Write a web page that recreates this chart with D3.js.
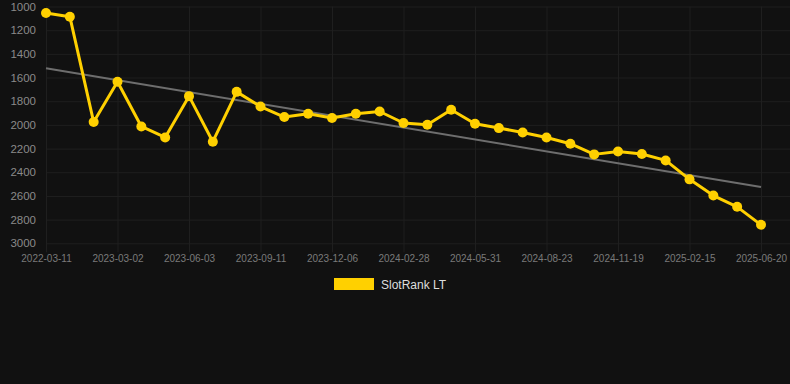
<!DOCTYPE html>
<html>
<head>
<meta charset="utf-8">
<script src="https://cdn.jsdelivr.net/npm/d3@7"></script>
<style>
  html, body { margin: 0; padding: 0; background: #111111; }
  svg { display: block; font-family: "Liberation Sans", Arial, sans-serif; }
</style>
</head>
<body>
<div id="chart"></div>
<script>
// tick labels, one every 3rd point
let tick_labels = ["2022-03-11", "2023-03-02", "2023-06-03", "2023-09-11", "2023-12-06",
    "2024-02-28", "2024-05-31", "2024-08-23", "2024-11-19", "2025-02-15", "2025-06-20"];

// SlotRank LT values (rank, lower is better)
let rank_values = [1055, 1086, 1976, 1636, 2013, 2106, 1757, 2142, 1721, 1845,
    1934, 1906, 1942, 1906, 1887, 1984, 1999, 1872, 1990, 2027,
    2064, 2106, 2159, 2249, 2224, 2246, 2300, 2460, 2597, 2692, 2844];

let y_ticks = [1000, 1200, 1400, 1600, 1800, 2000, 2200, 2400, 2600, 2800, 3000];
let series_name = "SlotRank LT";
let line_color = "#ffd000";
let grid_color = "#1f1f1f";

let width = 790, height = 384;
let plot = {left: 46, right: 790, top: 6.5, bottom: 243.3};

let svg = d3.select("#chart").append("svg")
    .attr("width", width)
    .attr("height", height);

svg.append("rect").attr("width", width).attr("height", height).attr("fill", "#111111");

let idx = d3.range(rank_values.length);

let x = d3.scalePoint()
    .domain(idx)
    .range([46, 761]);

let y = d3.scaleLinear()
    .domain([1000, 3000])
    .range([plot.top, plot.bottom]);

// horizontal grid + y labels
let y_axis = svg.append("g")
    .attr("transform", "translate(" + plot.left + ",0)")
    .call(d3.axisLeft(y).tickValues(y_ticks).tickSize(-(plot.right - plot.left)).tickPadding(10).tickFormat(d3.format("d")));
y_axis.select(".domain").remove();
y_axis.selectAll(".tick line").attr("stroke", grid_color);
y_axis.selectAll(".tick text").attr("fill", "#8a8a8a").attr("font-size", "11.5px");

// vertical grid + x labels
let tick_idx = tick_labels.map(function (d, i) { return i * 3; });
let x_axis = svg.append("g")
    .attr("transform", "translate(0," + plot.top + ")")
    .call(d3.axisBottom(x).tickValues(tick_idx).tickSize(plot.bottom - plot.top + 9).tickPadding(3)
        .tickFormat(function (d) { return tick_labels[d / 3]; }));
x_axis.select(".domain").remove();
x_axis.selectAll(".tick line").attr("stroke", grid_color);
x_axis.selectAll(".tick text").attr("fill", "#7a7a7a").attr("font-size", "10px");

// trend line (least squares over point index)
let mx = d3.mean(idx), my = d3.mean(rank_values);
let slope = d3.sum(idx, function (i) { return (i - mx) * (rank_values[i] - my); }) /
    d3.sum(idx, function (i) { return (i - mx) * (i - mx); });
let icpt = my - slope * mx;
let n = idx.length - 1;
svg.append("line")
    .attr("x1", x(0)).attr("y1", y(icpt))
    .attr("x2", x(n)).attr("y2", y(icpt + slope * n))
    .attr("stroke", "#6e6e6e")
    .attr("stroke-width", 2);

// series line
let line = d3.line()
    .x(function (d, i) { return x(i); })
    .y(function (d) { return y(d); });

svg.append("path")
    .datum(rank_values)
    .attr("fill", "none")
    .attr("stroke", line_color)
    .attr("stroke-width", 3)
    .attr("stroke-linejoin", "round")
    .attr("d", line);

svg.selectAll(".pt")
    .data(rank_values)
    .enter().append("circle")
    .attr("class", "pt")
    .attr("cx", function (d, i) { return x(i); })
    .attr("cy", function (d) { return y(d); })
    .attr("r", 5)
    .attr("fill", line_color);

// legend
let legend = svg.append("g").attr("transform", "translate(334,278)");
legend.append("rect")
    .attr("width", 40).attr("height", 12)
    .attr("fill", line_color);
legend.append("text")
    .attr("x", 47).attr("y", 10.5)
    .attr("fill", "#dddddd")
    .attr("font-size", "12px")
    .text(series_name);
</script>
</body>
</html>
